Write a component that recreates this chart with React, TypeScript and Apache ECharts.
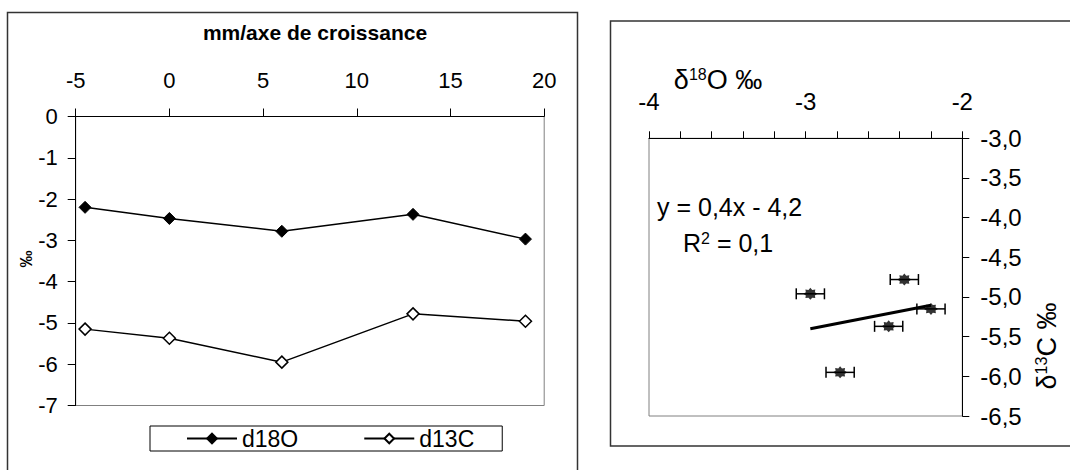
import React, { useEffect, useRef } from 'react';
import * as echarts from 'echarts';

// ---- data ----
const positionsMm = [-4.5, 0, 6, 13, 19];
const d18O = [-2.2, -2.47, -2.78, -2.37, -2.97];
const d13C = [-5.15, -5.37, -5.95, -4.78, -4.96];
const d18OError = [0.09, 0.09, 0.09, 0.09, 0.09];
const seriesNames = ['d18O', 'd13C'];
const leftTitle = 'mm/axe de croissance';
const leftYName = '‰';
const equationText = 'y = 0,4x - 4,2';

const FONT = 'Arial, "Liberation Sans", sans-serif';

function regression(xs: number[], ys: number[]) {
  const n = xs.length;
  const mx = xs.reduce((a, b) => a + b, 0) / n;
  const my = ys.reduce((a, b) => a + b, 0) / n;
  let sxy = 0;
  let sxx = 0;
  for (let i = 0; i < n; i++) {
    sxy += (xs[i] - mx) * (ys[i] - my);
    sxx += (xs[i] - mx) * (xs[i] - mx);
  }
  const slope = sxy / sxx;
  return { slope, intercept: my - slope * mx };
}

function starPath(): string {
  const pts: string[] = [];
  for (let k = 0; k < 16; k++) {
    const a = (k * Math.PI) / 8;
    const r = k % 2 === 0 ? 10 : 7;
    const x = (10 + r * Math.cos(a)).toFixed(2);
    const y = (10 + r * Math.sin(a)).toFixed(2);
    pts.push((k === 0 ? 'M' : 'L') + x + ' ' + y);
  }
  return 'path://' + pts.join(' ') + ' Z';
}

export default function App() {
  const ref = useRef<HTMLDivElement>(null);

  useEffect(() => {
    if (!ref.current) return;
    const chart = echarts.init(ref.current, undefined, { renderer: 'svg' });

    const reg = regression(d18O, d13C);
    const xmin = Math.min(...d18O);
    const xmax = Math.max(...d18O);
    const trend = [
      [xmin, reg.slope * xmin + reg.intercept],
      [xmax, reg.slope * xmax + reg.intercept],
    ];

    const axisLineBlack = { show: true, onZero: false, lineStyle: { color: '#000', width: 1 } };
    const tickBlack = { show: true, length: 8, lineStyle: { color: '#000', width: 1 } };
    const labelStyle = { color: '#000', fontFamily: FONT, fontSize: 22 };

    const option: any = {
      animation: false,
      backgroundColor: '#fff',
      textStyle: { fontFamily: FONT },
      grid: [
        {
          left: 75.7, top: 116.5, width: 468.5, height: 289,
          show: true, borderColor: '#808080', borderWidth: 1, backgroundColor: 'transparent',
        },
        {
          left: 649, top: 138.3, width: 313.3, height: 277.7,
          show: true, borderColor: '#808080', borderWidth: 1, backgroundColor: 'transparent',
        },
      ],
      xAxis: [
        {
          gridIndex: 0, type: 'value', position: 'top', min: -5, max: 20, interval: 5,
          axisLine: axisLineBlack, axisTick: tickBlack, splitLine: { show: false },
          axisLabel: { ...labelStyle, margin: 25 },
        },
        {
          gridIndex: 1, type: 'value', position: 'top', min: -4, max: -2, interval: 0.2,
          axisLine: axisLineBlack, axisTick: { ...tickBlack, length: 7 }, splitLine: { show: false },
          axisLabel: {
            ...labelStyle, fontSize: 24, margin: 25, showMinLabel: true, showMaxLabel: true,
            formatter: (v: number) => (Math.abs(v - Math.round(v)) < 1e-6 ? String(Math.round(v)) : ''),
          },
        },
      ],
      yAxis: [
        {
          gridIndex: 0, type: 'value', min: -7, max: 0, interval: 1,
          axisLine: axisLineBlack, axisTick: tickBlack, splitLine: { show: false },
          axisLabel: { ...labelStyle, margin: 18 },
        },
        {
          gridIndex: 1, type: 'value', position: 'right', min: -6.5, max: -3, interval: 0.5,
          axisLine: axisLineBlack, axisTick: { ...tickBlack, length: 7 }, splitLine: { show: false },
          axisLabel: {
            ...labelStyle, fontSize: 24, margin: 18,
            formatter: (v: number) => v.toFixed(1).replace('.', ','),
          },
        },
      ],
      legend: {
        left: 150, top: 426,
        orient: 'horizontal',
        data: seriesNames,
        itemWidth: 50, itemHeight: 12, itemGap: 65,
        padding: [1, 28, 1, 36],
        borderColor: '#000', borderWidth: 1,
        textStyle: { color: '#000', fontFamily: FONT, fontSize: 23 },
        selectedMode: false,
      },
      series: [
        {
          name: seriesNames[0], type: 'line', xAxisIndex: 0, yAxisIndex: 0,
          data: positionsMm.map((x, i) => [x, d18O[i]]),
          symbol: 'diamond', symbolSize: 12,
          lineStyle: { color: '#000', width: 1.5 },
          itemStyle: { color: '#000', borderColor: '#000', borderWidth: 1 },
        },
        {
          name: seriesNames[1], type: 'line', xAxisIndex: 0, yAxisIndex: 0,
          data: positionsMm.map((x, i) => [x, d13C[i]]),
          symbol: 'diamond', symbolSize: 12,
          lineStyle: { color: '#000', width: 1.5 },
          itemStyle: { color: '#fff', borderColor: '#000', borderWidth: 1.5 },
        },
        {
          name: 'errors', type: 'custom', xAxisIndex: 1, yAxisIndex: 1,
          data: d18O.map((x, i) => [x, d13C[i], d18OError[i]]),
          encode: { x: 0, y: 1 },
          z: 2,
          renderItem: (params: any, api: any) => {
            const x = api.value(0);
            const y = api.value(1);
            const e = api.value(2);
            const p1 = api.coord([x - e, y]);
            const p2 = api.coord([x + e, y]);
            const h = 5.5;
            const st = { stroke: '#000', lineWidth: 1.5 };
            return {
              type: 'group',
              children: [
                { type: 'line', shape: { x1: p1[0], y1: p1[1], x2: p2[0], y2: p2[1] }, style: st },
                { type: 'line', shape: { x1: p1[0], y1: p1[1] - h, x2: p1[0], y2: p1[1] + h }, style: st },
                { type: 'line', shape: { x1: p2[0], y1: p2[1] - h, x2: p2[0], y2: p2[1] + h }, style: st },
              ],
            };
          },
        },
        {
          name: 'points', type: 'scatter', xAxisIndex: 1, yAxisIndex: 1,
          data: d18O.map((x, i) => [x, d13C[i]]),
          symbol: starPath(), symbolSize: [14, 12],
          itemStyle: { color: '#000' },
          z: 3,
        },
        {
          name: 'trend', type: 'line', xAxisIndex: 1, yAxisIndex: 1,
          data: trend, symbol: 'none',
          lineStyle: { color: '#000', width: 3 },
          z: 4,
        },
      ],
      graphic: [
        {
          type: 'rect', z: -10,
          shape: { x: 7.5, y: 12.5, width: 570, height: 480 },
          style: { fill: 'none', stroke: '#333', lineWidth: 1.5 },
        },
        {
          type: 'rect', z: -10,
          shape: { x: 610.5, y: 21, width: 480, height: 425 },
          style: { fill: 'none', stroke: '#333', lineWidth: 1.5 },
        },
        {
          type: 'text', x: 315, y: 32,
          style: {
            text: leftTitle, fill: '#000', font: `bold 21px ${FONT}`,
            textAlign: 'center', textVerticalAlign: 'middle',
          },
        },
        {
          type: 'text', x: 26, y: 259, rotation: Math.PI / 2,
          style: {
            text: leftYName, fill: '#000', font: `bold 17px ${FONT}`,
            textAlign: 'center', textVerticalAlign: 'middle',
          },
        },
        {
          type: 'text', x: 718, y: 80,
          style: {
            text: '{m|δ}{s|18}{m|O ‰}', fill: '#000',
            textAlign: 'center', textVerticalAlign: 'middle',
            rich: {
              m: { fontFamily: FONT, fontSize: 27, fill: '#000' },
              s: { fontFamily: FONT, fontSize: 16, fill: '#000', verticalAlign: 'top' },
            },
          },
        },
        {
          type: 'text', x: 1047, y: 346, rotation: Math.PI / 2,
          style: {
            text: '{m|δ}{s|13}{m|C ‰}', fill: '#000',
            textAlign: 'center', textVerticalAlign: 'middle',
            rich: {
              m: { fontFamily: FONT, fontSize: 27, fill: '#000' },
              s: { fontFamily: FONT, fontSize: 16, fill: '#000', verticalAlign: 'top' },
            },
          },
        },
        {
          type: 'text', x: 657, y: 207,
          style: {
            text: equationText, fill: '#000', font: `25px ${FONT}`,
            textAlign: 'left', textVerticalAlign: 'middle',
          },
        },
        {
          type: 'text', x: 683, y: 243,
          style: {
            text: '{m|R}{s|2}{m| = 0,1}', fill: '#000',
            textAlign: 'left', textVerticalAlign: 'middle',
            rich: {
              m: { fontFamily: FONT, fontSize: 25, fill: '#000' },
              s: { fontFamily: FONT, fontSize: 16, fill: '#000', verticalAlign: 'top' },
            },
          },
        },
      ],
    };

    chart.setOption(option);
    return () => chart.dispose();
  }, []);

  return (
    <div
      ref={ref}
      style={{ position: 'absolute', left: 0, top: 0, width: 1070, height: 470, background: '#fff' }}
    />
  );
}
